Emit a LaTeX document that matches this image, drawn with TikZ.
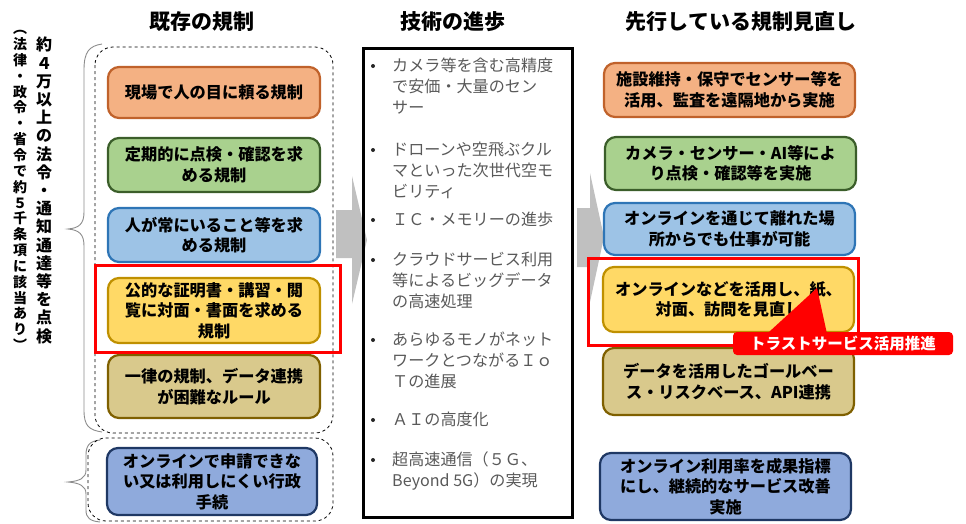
\documentclass[tikz,border=0pt]{standalone}
\usepackage{fontspec}
\setmainfont{Noto Sans CJK JP}
\definecolor{orF}{HTML}{F4B183}\definecolor{orD}{HTML}{C0622B}
\definecolor{grF}{HTML}{A9D18E}\definecolor{grD}{HTML}{3B5E2A}
\definecolor{blF}{HTML}{9DC3E6}\definecolor{blD}{HTML}{2E75B6}
\definecolor{yeF}{HTML}{FFD966}\definecolor{yeD}{HTML}{BF9000}
\definecolor{tnF}{HTML}{D9C98C}\definecolor{tnD}{HTML}{7F6000}
\definecolor{bgF}{HTML}{8FAADC}\definecolor{bgD}{HTML}{1F3864}
\definecolor{txtgray}{HTML}{595959}
\definecolor{arrgray}{HTML}{C0C0C0}
\definecolor{bracegray}{HTML}{8C8C8C}
\definecolor{redc}{HTML}{FF0000}
\begin{document}
\begin{tikzpicture}[x=1pt,y=-1pt,
  hdr/.style={font=\bfseries\fontsize{21}{24}\selectfont, inner sep=0},
  cbox/.style={rounded corners=11pt, line width=2.2pt, align=center, inner sep=0,
     font=\bfseries\fontsize{16.2}{20.5}\selectfont},
  itm/.style={anchor=north west, align=left, inner sep=0, text=txtgray,
     font=\fontsize{16.1}{21}\selectfont},
  bul/.style={circle, inner sep=0, minimum size=4pt, fill=black!85},
  redframe/.style={draw=redc, line width=3pt},
  dashbox/.style={draw=black, dashed, line width=0.8pt, rounded corners=18pt},
  gbrace/.style={draw=bracegray, line width=0.9pt},
  garrow/.style={fill=arrgray, draw=none}]
\useasboundingbox (0,0) rectangle (966,523);

% headers
\node[hdr] (h1) at (202,22) {既存の規制};
\node[hdr] (h2) at (453,22) {技術の進歩};
\node[hdr] (h3) at (741,22) {先行している規制見直し};

% gray block arrows
\fill[garrow] (336,210) -- (352,210) -- (352,176) -- (367,240) -- (352,304) -- (352,258) -- (336,258) -- cycle;
\fill[garrow] (577,208) -- (590,208) -- (590,173) -- (604,237) -- (590,302) -- (590,267) -- (577,267) -- cycle;

% vertical text
\node[inner sep=0, align=center, font=\bfseries\fontsize{16}{18.2}\selectfont] (v1) at (44,190.5)
 {約\\４\\万\\以\\上\\の\\法\\令\\・\\通\\知\\通\\達\\等\\を\\点\\検};
\node[inner sep=0, align=center, font=\bfseries\fontsize{14}{15.85}\selectfont] (v2) at (20,190.5)
 {︵\\法\\律\\・\\政\\令\\・\\省\\令\\で\\約\\５\\千\\条\\項\\に\\該\\当\\あ\\り\\︶};

% braces
\draw[gbrace] (102,44) .. controls (89,46) and (84,52) .. (84,70) -- (84,212)
  .. controls (84,224) and (79,228) .. (68,229) .. controls (79,230) and (84,234) .. (84,246)
  -- (84,410) .. controls (84,426) and (89,430) .. (102,432);
\draw[gbrace] (100,440) .. controls (90,441) and (86,445) .. (86,455) -- (86,470)
  .. controls (86,478) and (80,481) .. (68,482) .. controls (80,483) and (86,486) .. (86,494)
  -- (86,510) .. controls (86,518) and (90,521) .. (100,522);

% dashed groups
\draw[dashbox] (95,47) rectangle (333,433);
\draw[dashbox] (88,438) rectangle (333,521);

% left boxes
\node[cbox, draw=orD, fill=orF, minimum width=212pt, minimum height=51pt] (l1) at (214,92.5) {現場で人の目に頼る規制};
\node[cbox, draw=grD, fill=grF, minimum width=212pt, minimum height=54pt] (l2) at (214,165) {定期的に点検・確認を求\\める規制};
\node[cbox, draw=blD, fill=blF, minimum width=212pt, minimum height=54pt] (l3) at (214,235) {人が常にいること等を求\\める規制};
\node[cbox, draw=yeD, fill=yeF, minimum width=212pt, minimum height=65pt] (l4) at (214,310.5) {公的な証明書・講習・閲\\覧に対面・書面を求める\\規制};
\node[cbox, draw=tnD, fill=tnF, minimum width=212pt, minimum height=63pt] (l5) at (214,386.5) {一律の規制、データ連携\\が困難なルール};
\node[cbox, draw=bgD, fill=bgF, minimum width=210pt, minimum height=67pt] (l6) at (212,481.5) {オンラインで申請できな\\い又は利用しにくい行政\\手続};
\draw[redframe] (95,265) rectangle (340,352);

% middle box
\draw[line width=3pt] (363,48) rectangle (572,517);
\node[bul] (b1) at (373,66) {};
\node[itm] (t1) at (392,58) {カメラ等を含む高精度\\で安価・大量のセン\\サー};
\node[bul] (b2) at (373,150) {};
\node[itm] (t2) at (392,142) {ドローンや空飛ぶクル\\マといった次世代空モ\\ビリティ};
\node[bul] (b3) at (373,220) {};
\node[itm] (t3) at (392,212) {ＩＣ・メモリーの進歩};
\node[bul] (b4) at (373,260) {};
\node[itm] (t4) at (392,252) {クラウドサービス利用\\等によるビッグデータ\\の高速処理};
\node[bul] (b5) at (373,340) {};
\node[itm] (t5) at (392,332) {あらゆるモノがネット\\ワークとつながるＩｏ\\Ｔの進展};
\node[bul] (b6) at (373,420) {};
\node[itm] (t6) at (392,412) {ＡＩの高度化};
\node[bul] (b7) at (373,460) {};
\node[itm] (t7) at (392,452) {超高速通信（５Ｇ、\\Beyond 5G）の実現};

% right boxes
\node[cbox, draw=orD, fill=orF, minimum width=251pt, minimum height=54pt] (r1) at (729.5,90) {施設維持・保守でセンサー等を\\活用、監査を遠隔地から実施};
\node[cbox, draw=grD, fill=grF, minimum width=251pt, minimum height=53pt] (r2) at (730.5,163.5) {カメラ・センサー・AI等によ\\り点検・確認等を実施};
\node[cbox, draw=blD, fill=blF, minimum width=251pt, minimum height=52pt] (r3) at (729.5,229) {オンラインを通じて離れた場\\所からでも仕事が可能};
\node[cbox, draw=yeD, fill=yeF, minimum width=251pt, minimum height=65pt] (r4) at (728.5,299.5) {オンラインなどを活用し、紙、\\対面、訪問を見直し};
\node[cbox, draw=tnD, fill=tnF, minimum width=251pt, minimum height=67pt] (r5) at (728.5,381.5) {データを活用したゴールベー\\ス・リスクベース、API連携};
\node[cbox, draw=bgD, fill=bgF, minimum width=251pt, minimum height=67pt] (r6) at (725.5,486.5) {オンライン利用率を成果指標\\にし、継続的なサービス改善\\実施};
\draw[redframe] (588,258) rectangle (858,345);

% callout
\node[fill=redc, rounded corners=4pt, minimum width=220pt, minimum height=23pt, inner sep=0,
  text=white, font=\bfseries\fontsize{15.5}{18}\selectfont] (c1) at (843,343.5) {トラストサービス活用推進};
\coordinate (ctip) at (817,288);
\fill[redc] ([xshift=-76pt,yshift=-2pt]c1.north) -- (ctip) -- ([xshift=-16pt,yshift=-2pt]c1.north) -- cycle;
\end{tikzpicture}
\end{document}
